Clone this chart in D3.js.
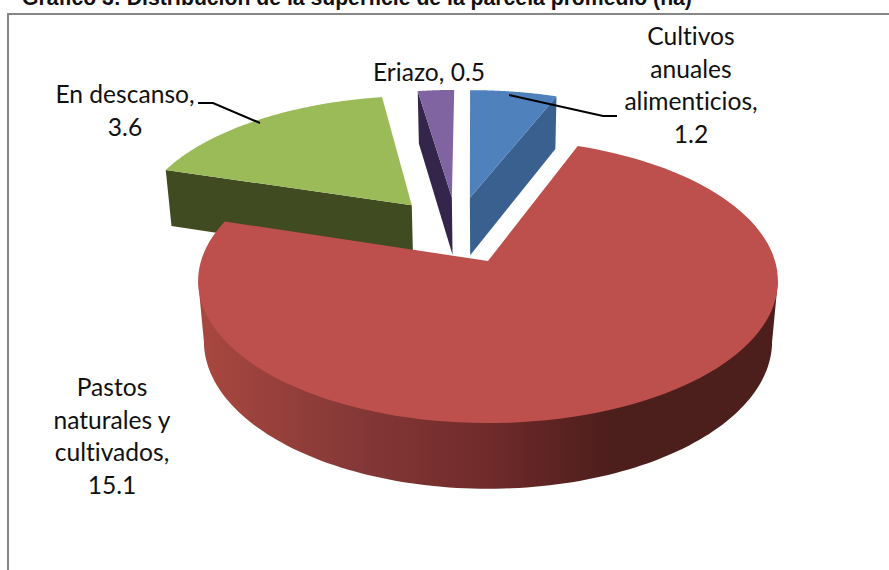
<!DOCTYPE html>
<html><head><meta charset="utf-8">
<script src="https://cdn.jsdelivr.net/npm/d3@7"></script>
<style>html,body{margin:0;padding:0;background:#fff;overflow:hidden}svg{display:block}text{font-variant-ligatures:none}</style>
</head><body><svg id="c" width="889" height="570"></svg>
<script>
const categories = ["Cultivos anuales alimenticios","Pastos naturales y cultivados","En descanso","Eriazo"];
const values = [1.2,15.1,3.6,0.5];
const topColors = ["#4f81bd","#bd4f4c","#9bbb59","#8064a2"];
const sideColors = ["#3a6090","#7a302e","#404b21","#33264a"];
const titleText = "Gráfico 3: Distribución de la superficie de la parcela promedio (ha)";
const labelLines = [
  ["Cultivos","anuales","alimenticios,","1.2"],
  ["Pastos","naturales y","cultivados,","15.1"],
  ["En descanso,","3.6"],
  ["Eriazo, 0.5"]
];
const labelAnchors = [[691,45],[112,396],[125,103],[429,81]];
const leaders = [
  [[509,95],[603,116],[617,116]],
  null,
  [[198,103],[213,103],[260,123]],
  null
];

const svg = d3.select("#c");
const ox=488, oy=261, a=287, b=139.2, p=0.141, h=61, q=0.02, e=0.257;
const rot=0.45*Math.PI/180;
const project=(u,v,z)=>{const s=1/(1+p*v+q*z);return [ox+a*u*s, oy-(b*v-h*z)*s];};
const slices=d3.pie().sort(null).value(d=>d).startAngle(-rot).endAngle(2*Math.PI-rot)(values);
const red=slices[1];
const redMid=(red.startAngle+red.endAngle)/2;
const offset=d=>{const m=(d.startAngle+d.endAngle)/2;
  return [e*(Math.sin(m)-Math.sin(redMid)), e*(Math.cos(m)-Math.cos(redMid))];};
const rim=(d,t,z)=>{const o=offset(d);return project(o[0]+Math.sin(t),o[1]+Math.cos(t),z);};
const apex=(d,z)=>{const o=offset(d);return project(o[0],o[1],z);};
const line=d3.line().curve(d3.curveLinear);
const angles=(t0,t1)=>d3.range(0,121).map(i=>t0+(t1-t0)*i/120);

const defs=svg.append("defs");
const grad=defs.append("linearGradient").attr("id","redSide").attr("gradientUnits","userSpaceOnUse")
  .attr("x1",204).attr("x2",771).attr("y1",0).attr("y2",0);
[[0,"#a8473f"],[0.27,"#843837"],[0.5,"#702b2a"],[0.72,"#4c1e1c"],[1,"#4c1e1c"]]
  .forEach(s=>grad.append("stop").attr("offset",s[0]).attr("stop-color",s[1]));

// frame
svg.append("path").attr("d","M8,570V14H889").attr("fill","none").attr("stroke","#868686").attr("stroke-width",2);
svg.append("text").attr("x",22).attr("y",5).attr("font-family","Liberation Sans, Arial, sans-serif")
  .attr("font-weight","bold").attr("font-size",21.2).attr("fill","#111").text(titleText);

// draw order back to front: blue, purple, green, red
[0,3,2,1].forEach(i=>{
  const d=slices[i], g=svg.append("g").attr("class","slice");
  if(i===1){
    const widest=Math.acos(-p);
    const ts=angles(widest,2*Math.PI-widest);
    const pts=[rim(d,ts[0],0)].concat(ts.map(t=>rim(d,t,1)),[rim(d,ts[ts.length-1],0)]);
    g.append("path").attr("d",line(pts)+"Z").attr("fill","url(#redSide)");
  } else {
    const t=(i===0)?d.endAngle:d.startAngle;
    const pts=[apex(d,0),rim(d,t,0),rim(d,t,1),apex(d,1)];
    g.append("path").attr("d",line(pts)+"Z").attr("fill",sideColors[i]);
  }
  const topPts=[apex(d,0)].concat(angles(d.startAngle,d.endAngle).map(t=>rim(d,t,0)));
  g.append("path").attr("d",line(topPts)+"Z").attr("fill",topColors[i]);
});

// leader lines
leaders.forEach(l=>{ if(l) svg.append("path").attr("d",line(l)).attr("fill","none").attr("stroke","#000").attr("stroke-width",2);});

// labels
labelLines.forEach((ls,i)=>{
  const t=svg.append("text").attr("text-anchor","middle").attr("font-family","Lato, Carlito, sans-serif")
    .attr("font-size",24.6).attr("fill","#111");
  ls.forEach((s,j)=>t.append("tspan").attr("x",labelAnchors[i][0]).attr("y",labelAnchors[i][1]+j*32.5).text(s));
});
</script></body></html>
